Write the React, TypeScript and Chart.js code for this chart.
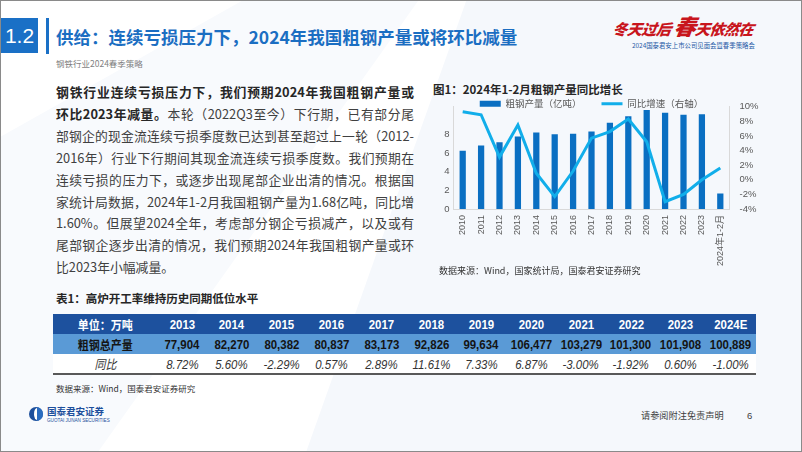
import React, { useEffect, useRef } from 'react';
import { Chart, registerables } from 'chart.js';

Chart.register(...registerables);

// ---------- chart data ----------
const categories = ['2010', '2011', '2012', '2013', '2014', '2015', '2016', '2017', '2018', '2019', '2020', '2021', '2022', '2023', '2024年1-2月'];
const outputValues = [6.27, 6.83, 7.17, 7.79, 8.23, 8.04, 8.08, 8.32, 9.28, 9.96, 10.65, 10.35, 10.13, 10.19, 1.68];
const growthValues = [9.3, 8.9, 3.1, 7.5, 0.9, -2.3, 1.2, 5.7, 6.6, 8.3, 5.2, -3.0, -2.0, 0.0, 1.6];
const barLabel = '粗钢产量（亿吨）';
const lineLabel = '同比增速（右轴）';

// ---------- table data ----------
const tableYears = ['2013', '2014', '2015', '2016', '2017', '2018', '2019', '2020', '2021', '2022', '2023', '2024E'];
const tableOutput = ['77,904', '82,270', '80,382', '80,837', '83,173', '92,826', '99,634', '106,477', '103,279', '101,300', '101,908', '100,889'];
const tableYoY = ['8.72%', '5.60%', '-2.29%', '0.57%', '2.89%', '11.61%', '7.33%', '6.87%', '-3.00%', '-1.92%', '0.60%', '-1.00%'];

// ---------- body text ----------
const bodyLines: Array<Array<[string, boolean]>> = [
  [['钢铁行业连续亏损压力下，我们预期2024年我国粗钢产量或', true]],
  [['环比2023年减量。', true], ['本轮（2022Q3至今）下行期，已有部分尾', false]],
  [['部钢企的现金流连续亏损季度数已达到甚至超过上一轮（2012-', false]],
  [['2016年）行业下行期间其现金流连续亏损季度数。我们预期在', false]],
  [['连续亏损的压力下，或逐步出现尾部企业出清的情况。根据国', false]],
  [['家统计局数据，2024年1-2月我国粗钢产量为1.68亿吨，同比增', false]],
  [['1.60%。但展望2024全年，考虑部分钢企亏损减产，以及或有', false]],
  [['尾部钢企逐步出清的情况，我们预期2024年我国粗钢产量或环', false]],
  [['比2023年小幅减量。', false]],
];

const CJK = '"Noto Sans CJK SC", "Noto Sans", sans-serif';
const NUM = '"Liberation Sans", "Noto Sans CJK SC", sans-serif';

const BAR_COLOR = '#0a6fc2';
const LINE_COLOR = '#11aeea';
const TICK_COLOR = '#595959';
const AXIS_COLOR = '#d9d9d9';
const LEGEND_FONT = 9.5;
const LEGEND_PAD = 20;
const LEGEND_RISE = 3;

const legendPlacer = {
  id: 'legendPlacer',
  afterLayout(chart: any) {
    const L = chart.legend;
    if (!L) return;
    const a = chart.chartArea;
    const top = a.top - LEGEND_RISE - LEGEND_PAD - LEGEND_FONT / 2;
    L.top = top;
    L.bottom = a.top + 6;
    L.left = a.left - 20;
    L.right = a.right + 20;
    L.width = L.right - L.left;
    L.height = L.bottom - L.top;
  },
};

function SteelChart() {
  const ref = useRef<HTMLCanvasElement>(null);
  useEffect(() => {
    if (!ref.current) return;
    const chart = new Chart(ref.current, {
      type: 'bar',
      data: {
        labels: categories,
        datasets: [
          {
            type: 'bar',
            label: barLabel,
            data: outputValues,
            backgroundColor: BAR_COLOR,
            yAxisID: 'y',
            order: 1,
            categoryPercentage: 1,
            barPercentage: 0.34,
          } as any,
          {
            type: 'line',
            label: lineLabel,
            data: growthValues,
            borderColor: LINE_COLOR,
            backgroundColor: LINE_COLOR,
            borderWidth: 3,
            pointRadius: 0,
            tension: 0,
            yAxisID: 'y1',
            order: 0,
          } as any,
        ],
      },
      options: {
        responsive: false,
        animation: false,
        devicePixelRatio: 1,
        layout: { padding: 0 },
        plugins: {
          tooltip: { enabled: false },
          legend: {
            position: 'top',
            maxHeight: 15.7,
            labels: {
              usePointStyle: true,
              pointStyleWidth: 21,
              boxHeight: 6,
              padding: LEGEND_PAD,
              color: TICK_COLOR,
              font: { size: LEGEND_FONT, family: CJK },
              generateLabels: (c: any) => [
                { text: c.data.datasets[0].label, fillStyle: BAR_COLOR, strokeStyle: BAR_COLOR, lineWidth: 0, pointStyle: 'rect', datasetIndex: 0, hidden: false, fontColor: TICK_COLOR },
                { text: c.data.datasets[1].label, fillStyle: LINE_COLOR, strokeStyle: LINE_COLOR, lineWidth: 3, pointStyle: 'line', datasetIndex: 1, hidden: false, fontColor: TICK_COLOR },
              ],
            },
          } as any,
        },
        scales: {
          x: {
            offset: true,
            grid: { display: false, drawTicks: false },
            border: { color: AXIS_COLOR },
            ticks: { color: TICK_COLOR, font: { size: 9, family: NUM }, minRotation: 90, maxRotation: 90, padding: 6, autoSkip: false },
            afterFit: (s: any) => { s.height = 62; },
          },
          y: {
            position: 'left',
            min: 0,
            max: 11,
            grid: { display: false, drawTicks: false },
            border: { color: AXIS_COLOR },
            ticks: { stepSize: 2, padding: 4, color: TICK_COLOR, font: { size: 9.5, family: NUM } },
            afterBuildTicks: (s: any) => { s.ticks = s.ticks.filter((t: any) => t.value % 2 === 0 && t.value <= 10); },
            afterFit: (s: any) => { s.width = 24.5; },
          },
          y1: {
            position: 'right',
            min: -4,
            max: 10,
            grid: { display: false, drawTicks: false },
            border: { color: AXIS_COLOR },
            ticks: { stepSize: 2, padding: 10, color: TICK_COLOR, font: { size: 9.5, family: NUM }, callback: (v: any) => v + '%' },
            afterFit: (s: any) => { s.width = 41.5; },
          },
        },
      } as any,
      plugins: [legendPlacer],
    });
    return () => chart.destroy();
  }, []);
  return (
    <canvas
      ref={ref}
      width={342}
      height={180}
      style={{ position: 'absolute', left: 428, top: 90, width: 342, height: 180 }}
    />
  );
}

const abs = (o: React.CSSProperties): React.CSSProperties => ({ position: 'absolute', ...o });

function Narrow({ children, scale = 0.88, cjk = false }: { children: React.ReactNode; scale?: number; cjk?: boolean }) {
  return (
    <span
      style={{
        display: 'inline-block', transform: `scaleX(${scale})`, transformOrigin: 'center',
        fontFamily: cjk ? CJK : NUM, fontSize: cjk ? 12.5 : 13, whiteSpace: 'nowrap',
      }}
    >
      {children}
    </span>
  );
}

export default function App() {
  const colW = 49.9;
  const cell: React.CSSProperties = { textAlign: 'center', padding: 0, whiteSpace: 'nowrap', overflow: 'visible', lineHeight: '16px' };
  return (
    <div
      style={{
        position: 'fixed', left: 0, top: 0, width: 802, height: 452, boxSizing: 'border-box',
        border: '1px solid #8a8a8a', background: '#ffffff', overflow: 'hidden', fontFamily: CJK,
      }}
    >
      {/* subtle background shapes */}
      <div style={abs({ left: 0, top: 0, width: 802, height: 452, background: '#f5f8fc', clipPath: 'polygon(58% 0, 100% 0, 100% 100%, 38% 100%)' })} />
      <div style={abs({ left: 0, top: 0, width: 802, height: 452, background: '#f8fafd', clipPath: 'polygon(0 30%, 30% 0, 52% 0, 12% 100%, 0 100%)' })} />

      {/* header */}
      <div style={abs({ left: 0, top: 17, width: 37, height: 35, background: '#1a70c6', color: '#fff', fontFamily: NUM, fontSize: 21, lineHeight: '35px', textAlign: 'center' })}>1.2</div>
      <div style={abs({ left: 45, top: 17, width: 3, height: 36, background: '#1a70c6' })} />
      <div style={abs({ left: 55, top: 24, fontSize: 17.5, lineHeight: '24px', fontWeight: 700, color: '#1b6ec2', whiteSpace: 'nowrap' })}>
        供给：连续亏损压力下，2024年我国粗钢产量或将环比减量
      </div>
      <div style={abs({ left: 55, top: 56, fontSize: 8.5, lineHeight: '12px', color: '#7f7f7f', whiteSpace: 'nowrap' })}>钢铁行业2024春季策略</div>

      {/* top-right logo */}
      <div style={abs({ left: 612, top: 10, fontSize: 15, lineHeight: '28px', fontWeight: 900, fontStyle: 'italic', color: '#c8151d', whiteSpace: 'nowrap', letterSpacing: -0.5, transform: 'skewX(-8deg)' })}>
        冬天过后<span style={{ fontSize: 22, marginLeft: 3 }}>春</span>天依然在
      </div>
      <div style={abs({ left: 631, top: 40, fontSize: 6.4, lineHeight: '9px', color: '#1f5aa6', whiteSpace: 'nowrap' })}>2024国泰君安上市公司见面会暨春季策略会</div>

      {/* body text */}
      {bodyLines.map((segs, i) => (
        <div
          key={i}
          style={abs({
            left: 55, top: 80 + i * 21.9, width: 358, height: 21.9, lineHeight: '21.9px', fontSize: 12.8,
            textAlign: 'justify', textAlignLast: i === bodyLines.length - 1 ? 'left' : 'justify', color: '#404040',
          } as React.CSSProperties)}
        >
          {segs.map(([t, b], j) => (
            <span key={j} style={{ fontWeight: b ? 700 : 400, color: b ? '#262626' : '#404040' }}>{t}</span>
          ))}
        </div>
      ))}

      {/* chart */}
      <div style={abs({ left: 432, top: 81, fontSize: 11.5, lineHeight: '14px', fontWeight: 700, color: '#262626', whiteSpace: 'nowrap' })}>图1：2024年1-2月粗钢产量同比增长</div>
      <SteelChart />
      <div style={abs({ left: 438, top: 264, fontSize: 9, lineHeight: '12px', color: '#333', whiteSpace: 'nowrap' })}>数据来源：Wind，国家统计局，国泰君安证券研究</div>

      {/* table */}
      <div style={abs({ left: 55, top: 290, fontSize: 11.5, lineHeight: '14px', fontWeight: 700, color: '#262626', whiteSpace: 'nowrap' })}>表1：高炉开工率维持历史同期低位水平</div>
      <table
        style={abs({
          left: 52, top: 313, width: 104 + colW * 12, borderCollapse: 'collapse', tableLayout: 'fixed',
          borderBottom: '2px solid #595959',
        })}
      >
        <colgroup>
          <col style={{ width: 104 }} />
          {tableYears.map((y) => <col key={y} style={{ width: colW }} />)}
        </colgroup>
        <tbody>
          <tr style={{ height: 19.5, background: '#1d519e', color: '#ffffff', fontWeight: 700 }}>
            <td style={cell}><Narrow cjk>单位：万吨</Narrow></td>
            {tableYears.map((y) => <td key={y} style={cell}><Narrow>{y}</Narrow></td>)}
          </tr>
          <tr style={{ height: 20, background: '#5a9ad6', color: '#141414', fontWeight: 700 }}>
            <td style={cell}><Narrow cjk>粗钢总产量</Narrow></td>
            {tableOutput.map((v, i) => <td key={i} style={cell}><Narrow>{v}</Narrow></td>)}
          </tr>
          <tr style={{ height: 19, background: '#ffffff', color: '#333333', fontStyle: 'italic' }}>
            <td style={cell}><Narrow cjk>同比</Narrow></td>
            {tableYoY.map((v, i) => <td key={i} style={cell}><Narrow>{v}</Narrow></td>)}
          </tr>
        </tbody>
      </table>
      <div style={abs({ left: 55, top: 381, fontSize: 8.5, lineHeight: '12px', color: '#333', whiteSpace: 'nowrap' })}>数据来源：Wind，国泰君安证券研究</div>

      {/* footer */}
      <div style={abs({ left: 28, top: 406, width: 14, height: 14, borderRadius: '50%', background: '#1d4f9c', overflow: 'hidden' })}>
        <div style={abs({ left: 5, top: 1, width: 6, height: 12, borderRadius: '50%', background: '#ffffff' })} />
        <div style={abs({ left: 8, top: 0, width: 6, height: 14, background: '#2a6cc0' })} />
      </div>
      <div style={abs({ left: 46, top: 404, fontSize: 9.5, lineHeight: '12px', fontWeight: 700, color: '#1d4f9c', whiteSpace: 'nowrap' })}>国泰君安证券</div>
      <div style={abs({ left: 46, top: 417, fontSize: 4.6, lineHeight: '6px', color: '#1d4f9c', whiteSpace: 'nowrap', fontFamily: NUM })}>GUOTAI JUNAN SECURITIES</div>
      <div style={abs({ left: 640, top: 408, fontSize: 9.2, lineHeight: '13px', color: '#404040', whiteSpace: 'nowrap' })}>请参阅附注免责声明</div>
      <div style={abs({ left: 746, top: 408, fontSize: 9.5, lineHeight: '13px', color: '#404040', fontFamily: NUM })}>6</div>
    </div>
  );
}
